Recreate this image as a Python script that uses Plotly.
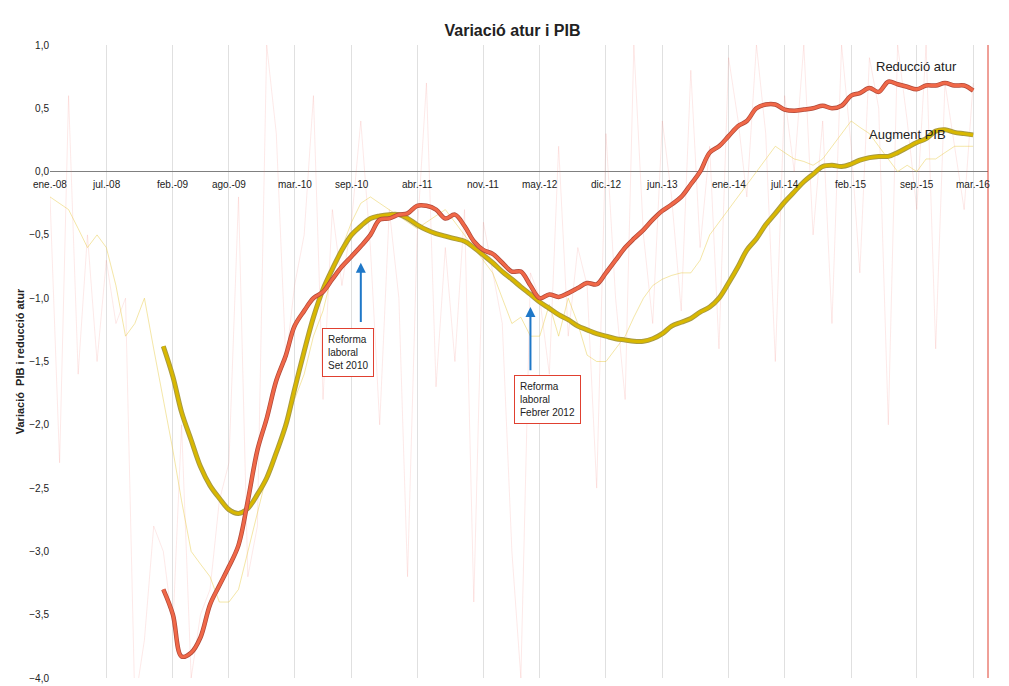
import plotly.graph_objects as go
import pandas as pd

months = pd.date_range("2008-01-01", "2016-03-01", freq="MS")

atur_smooth = [-3.3,-3.5,-3.83,-3.8,-3.68,-3.42,-3.27,-3.12,-2.95,-2.6,-2.2,-1.95,-1.65,-1.45,-1.22,-1.1,-1.0,-0.95,-0.85,-0.75,-0.67,-0.59,-0.5,-0.38,-0.37,-0.34,-0.33,-0.27,-0.27,-0.3,-0.37,-0.34,-0.43,-0.55,-0.62,-0.65,-0.72,-0.79,-0.79,-0.9,-1.0,-0.97,-0.99,-0.96,-0.92,-0.88,-0.89,-0.8,-0.7,-0.6,-0.53,-0.46,-0.38,-0.31,-0.26,-0.2,-0.1,0.0,0.15,0.2,0.28,0.36,0.4,0.5,0.53,0.53,0.49,0.48,0.49,0.5,0.52,0.5,0.52,0.6,0.62,0.66,0.63,0.71,0.69,0.67,0.65,0.68,0.68,0.7,0.68,0.68,0.64]
pib_smooth = [-1.38,-1.62,-1.9,-2.12,-2.33,-2.48,-2.58,-2.67,-2.7,-2.66,-2.55,-2.42,-2.22,-2.0,-1.72,-1.42,-1.15,-0.93,-0.77,-0.62,-0.5,-0.43,-0.37,-0.35,-0.34,-0.34,-0.37,-0.42,-0.46,-0.49,-0.51,-0.53,-0.55,-0.6,-0.66,-0.72,-0.79,-0.85,-0.91,-0.97,-1.03,-1.08,-1.13,-1.17,-1.22,-1.25,-1.28,-1.3,-1.32,-1.33,-1.34,-1.34,-1.32,-1.28,-1.22,-1.19,-1.16,-1.11,-1.07,-1.0,-0.88,-0.75,-0.62,-0.53,-0.42,-0.33,-0.24,-0.16,-0.08,-0.02,0.04,0.05,0.04,0.06,0.09,0.11,0.12,0.12,0.15,0.19,0.23,0.26,0.32,0.33,0.31,0.30,0.29]
smooth_dates = months[12:]

pib_raw = [-0.2,-0.25,-0.3,-0.45,-0.6,-0.5,-0.6,-0.9,-1.3,-1.2,-1.0,-1.4,-1.8,-2.2,-2.6,-3.0,-3.1,-3.2,-3.4,-3.4,-3.3,-3.0,-2.7,-2.4,-2.2,-2.0,-1.8,-1.6,-1.3,-1.1,-0.8,-0.6,-0.4,-0.25,-0.2,-0.25,-0.3,-0.35,-0.4,-0.45,-0.4,-0.35,-0.3,-0.4,-0.5,-0.6,-0.7,-0.8,-1.0,-1.2,-1.15,-1.3,-1.3,-1.05,-1.3,-1.0,-1.2,-1.45,-1.5,-1.5,-1.4,-1.3,-1.15,-1.0,-0.9,-0.85,-0.82,-0.8,-0.8,-0.7,-0.5,-0.4,-0.3,-0.2,-0.1,0.0,0.1,0.2,0.15,0.1,0.08,0.05,0.1,0.2,0.3,0.4,0.35,0.3,0.2,0.1,0.0,0.05,0.0,0.1,0.1,0.15,0.2,0.2,0.2]
atur_raw = [-0.2,-2.3,0.6,-1.6,-0.5,-1.5,-0.7,-1.2,-1.0,-4.2,-3.7,-2.8,-3.0,-3.6,-2.0,-4.0,-3.5,-3.3,-2.6,-2.3,-0.2,-3.2,-2.8,1.0,0.3,-1.5,-0.9,-0.5,0.6,-1.8,-0.3,-0.9,-0.4,0.4,-0.6,-2.0,-0.3,-1.0,-3.2,-0.5,0.7,-1.7,-0.6,-1.5,-0.3,-3.4,-0.4,-0.8,-1.2,-3.0,-4.0,-0.8,-1.0,-1.6,0.2,-1.3,-0.6,-0.9,-2.5,0.3,-1.0,-1.8,1.0,-0.5,-1.2,0.4,-0.2,-1.1,0.8,-0.6,0.2,-1.4,0.9,0.4,-0.2,1.0,0.3,-1.5,0.6,0.0,1.0,-0.5,0.4,-1.2,1.0,0.2,-0.8,0.9,0.5,-2.0,1.0,0.4,-0.3,1.0,-1.4,0.7,0.2,-0.3,0.7]

tick_idx = [0,6,13,19,26,32,39,46,52,59,65,72,78,85,92,98]
tick_text = ["ene.-08","jul.-08","feb.-09","ago.-09","mar.-10","sep.-10","abr.-11","nov.-11","may.-12","dic.-12","jun.-13","ene.-14","jul.-14","feb.-15","sep.-15","mar.-16"]
tick_dates = [months[i] for i in tick_idx]
x_end = months[98] + pd.Timedelta(days=48)

fig = go.Figure()
fig.add_trace(go.Scatter(x=months, y=atur_raw, mode="lines", line=dict(color="rgba(240,120,110,0.16)", width=1)))
fig.add_trace(go.Scatter(x=months, y=pib_raw, mode="lines", line=dict(color="rgba(230,200,60,0.45)", width=1)))
fig.add_trace(go.Scatter(x=smooth_dates, y=pib_smooth, mode="lines", line=dict(color="#a89a40", width=5), line_shape="spline"))
fig.add_trace(go.Scatter(x=smooth_dates, y=pib_smooth, mode="lines", line=dict(color="#d9b800", width=3), line_shape="spline"))
fig.add_trace(go.Scatter(x=smooth_dates, y=atur_smooth, mode="lines", line=dict(color="#b04a3a", width=4.5), line_shape="spline"))
fig.add_trace(go.Scatter(x=smooth_dates, y=atur_smooth, mode="lines", line=dict(color="#f06848", width=3), line_shape="spline"))

for d, t in zip(tick_dates, tick_text):
    fig.add_annotation(x=d, y=0, text=t, showarrow=False, yshift=-13, font=dict(size=10, color="#222"))

fig.add_annotation(x=months[92], y=0.83, text="Reducció atur", showarrow=False, font=dict(size=13, color="#222"))
fig.add_annotation(x=months[91], y=0.29, text="Augment PIB", showarrow=False, font=dict(size=13, color="#222"))

fig.add_annotation(x=months[33], y=-0.72, ax=months[33], ay=-1.2, axref="x", ayref="y",
                   showarrow=True, arrowhead=2, arrowwidth=2, arrowcolor="#1f78c8", text="")
fig.add_annotation(x=months[31]+pd.Timedelta(days=20), y=-1.43, text="Reforma<br>laboral<br>Set 2010", showarrow=False,
                   align="left", bordercolor="#e04030", borderwidth=1, bgcolor="white", borderpad=5,
                   font=dict(size=10, color="#222"))
fig.add_annotation(x=months[51], y=-1.07, ax=months[51], ay=-1.58, axref="x", ayref="y",
                   showarrow=True, arrowhead=2, arrowwidth=2, arrowcolor="#1f78c8", text="")
fig.add_annotation(x=months[52]+pd.Timedelta(days=25), y=-1.8, text="Reforma<br>laboral<br>Febrer 2012", showarrow=False,
                   align="left", bordercolor="#e04030", borderwidth=1, bgcolor="white", borderpad=5,
                   font=dict(size=10, color="#222"))

fig.add_shape(type="line", xref="paper", yref="paper", x0=1, x1=1, y0=0, y1=1,
              line=dict(color="#e04030", width=1))

fig.update_layout(
    width=1009, height=686, showlegend=False,
    paper_bgcolor="white", plot_bgcolor="white",
    margin=dict(l=42, r=29, t=37, b=16, autoexpand=False),
    separators=",.",
    font=dict(family="Liberation Sans", size=11, color="#222"),
    title=dict(text="<b>Variació atur i PIB</b>", x=0.5, y=0.975, xanchor="center", font=dict(size=16)),
    xaxis=dict(range=[months[0], x_end], tickvals=tick_dates, showticklabels=False,
               showgrid=True, gridcolor="#e0e0e0", zeroline=False, showline=False, automargin=False),
    yaxis=dict(range=[-4, 1], dtick=0.5, tickformat=".1f", showgrid=False,
               zeroline=True, zerolinecolor="#808080", zerolinewidth=1,
               showline=False, ticks="", tickfont=dict(size=10), automargin=False,
               title=dict(text="<b>Variació  PIB i reducció atur</b>", font=dict(size=11), standoff=2)),
)
fig.write_html("out.html")
